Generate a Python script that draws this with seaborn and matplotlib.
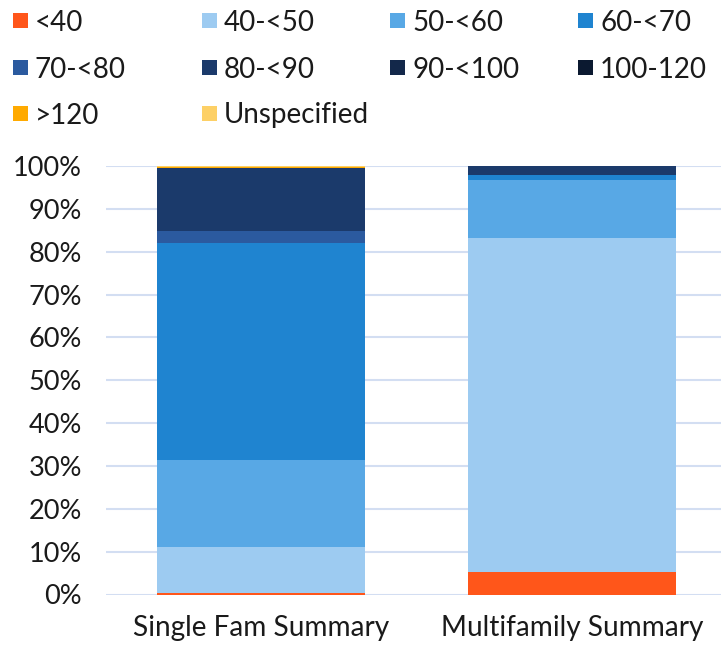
import matplotlib
matplotlib.use("Agg")
import matplotlib.pyplot as plt
from matplotlib.patches import Rectangle
from matplotlib.ticker import PercentFormatter
import seaborn as sns
import pandas as pd
import numpy as np

categories = ["Single Fam Summary", "Multifamily Summary"]
bands = ["<40", "40-<50", "50-<60", "60-<70", "70-<80", "80-<90",
         "90-<100", "100-120", ">120", "Unspecified"]
single_fam = [0.3, 10.9, 20.3, 50.5, 2.9, 14.6, 0.1, 0.0, 0.2, 0.2]
multifamily = [5.2, 78.1, 13.4, 1.1, 0.1, 2.1, 0.0, 0.0, 0.0, 0.0]
colors = ["#FF561A", "#9DCBF1", "#58A8E5", "#1F84D0", "#2B5A9F", "#1B3A6B",
          "#13284A", "#0B1930", "#FFAA00", "#FDD066"]

sns.set_theme(style="white")
plt.rcParams["font.family"] = ["Lato", "DejaVu Sans"]

W, H = 721, 648
fig = plt.figure(figsize=(W / 100, H / 100), dpi=100)
ax = fig.add_axes([105.5 / W, 1 - 594.5 / H, 622 / W, (594.5 - 166) / H])

vals = np.array([single_fam, multifamily]) / 100.0
cum = np.cumsum(vals, axis=1)

for i in range(len(bands) - 1, -1, -1):
    df = pd.DataFrame({"cat": categories, "top": cum[:, i]})
    sns.barplot(data=df, x="cat", y="top", color=colors[i], width=0.67,
                saturation=1, ax=ax, linewidth=0, zorder=3)

ax.set_ylim(0, 1.0)
ax.set_xlim(-0.5, 1.5)
ax.set_yticks(np.arange(0, 1.01, 0.1))
ax.yaxis.set_major_formatter(PercentFormatter(1.0, decimals=0))
ax.grid(axis="y", color="#D3DEF2", linewidth=1.5, zorder=0)
ax.set_axisbelow(True)
for s in ax.spines.values():
    s.set_visible(False)
ax.set_xlabel("")
ax.set_ylabel("")
ax.tick_params(axis="y", labelsize=19.5, colors="#1a1a1a", length=0, pad=17)
ax.tick_params(axis="x", labelsize=20.2, colors="#1a1a1a", length=0, pad=15)

# legend, laid out in rows of four like the original
col_x = [13, 202, 390, 578]
row_y = [20.5, 67, 113]
sq = 15
for k, (lab, c) in enumerate(zip(bands, colors)):
    r, cidx = divmod(k, 4)
    x0 = col_x[cidx]
    yc = row_y[r]
    fig.add_artist(Rectangle((x0 / W, 1 - (yc + sq / 2) / H), sq / W, sq / H,
                             transform=fig.transFigure, facecolor=c,
                             edgecolor="none"))
    fig.text((x0 + sq + 7) / W, 1 - yc / H, lab, fontsize=20,
             color="#1a1a1a", va="center_baseline", ha="left")

fig.savefig("out.png", dpi=100)
